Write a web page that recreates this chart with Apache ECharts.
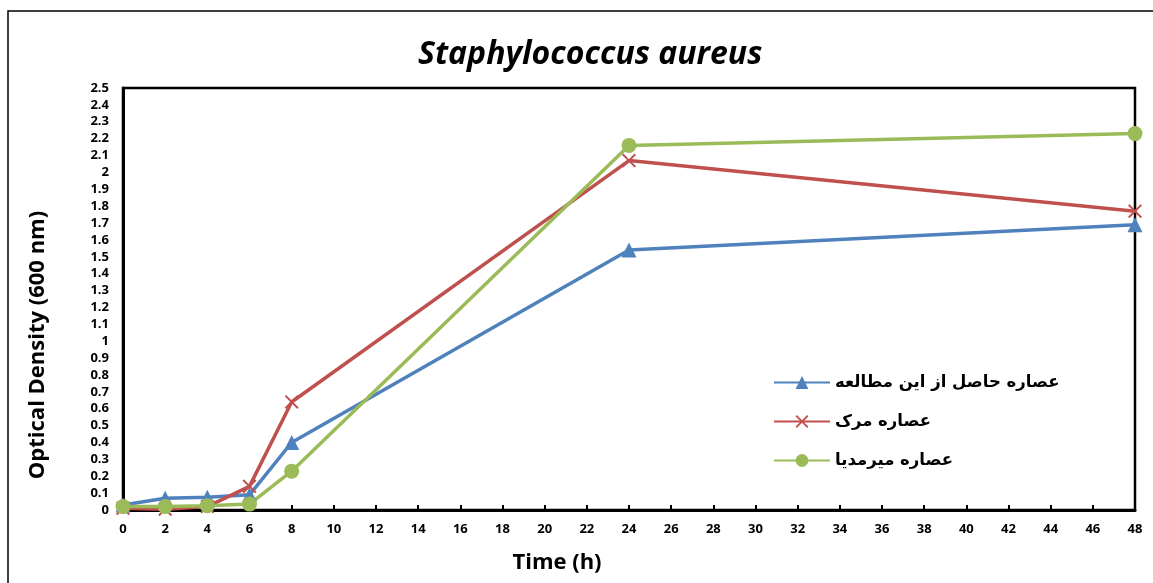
<!DOCTYPE html>
<html>
<head>
<meta charset="utf-8">
<script src="https://cdn.jsdelivr.net/npm/echarts@6/dist/echarts.min.js"></script>
<style>
  html, body { margin: 0; padding: 0; background: #fff; }
  #main { width: 1153px; height: 583px; }
</style>
</head>
<body>
<div id="main"></div>
<script>
// time points (h)
var hours = [0, 2, 4, 6, 8, 24, 48];
// optical density at 600 nm
var studyExtract = [0.03, 0.07, 0.075, 0.09, 0.40, 1.54, 1.69];
var merckExtract = [0.01, 0.005, 0.02, 0.14, 0.64, 2.07, 1.77];
var mirmediaExtract = [0.02, 0.02, 0.025, 0.035, 0.23, 2.16, 2.23];
var seriesNames = ['عصاره حاصل از این مطالعه', 'عصاره مرک', 'عصاره میرمدیا'];

function pairs(ys) {
  return hours.map(function (h, i) { return [h, ys[i]]; });
}

var crossPath = 'path://M0,1L1,0L5,4L9,0L10,1L6,5L10,9L9,10L5,6L1,10L0,9L4,5Z';
var boldFont = '"Open Sans", "Liberation Sans", sans-serif';

var chartDom = document.getElementById('main');
var myChart = echarts.init(chartDom);
myChart.setOption({
  animation: false,
  backgroundColor: '#fff',
  graphic: [{
    type: 'rect',
    shape: { x: 8, y: 11, width: 1200, height: 620 },
    style: { fill: 'none', stroke: '#000', lineWidth: 1.5 },
    z: 0
  }],
  title: {
    text: 'Staphylococcus aureus',
    left: 413,
    top: 34,
    textStyle: { fontFamily: boldFont, fontStyle: 'italic', fontWeight: 'bold', fontSize: 32, color: '#000' }
  },
  grid: {
    left: 123, top: 88, right: 18, bottom: 73,
    show: true, borderColor: '#000', borderWidth: 2.5
  },
  legend: {
    orient: 'vertical',
    left: 768,
    top: 369,
    itemGap: 22,
    itemWidth: 56,
    itemHeight: 16,
    data: seriesNames,
    textStyle: { fontFamily: '"DejaVu Sans", sans-serif', fontWeight: 'bold', fontSize: 16.5, color: '#000' }
  },
  xAxis: {
    type: 'value',
    min: 0, max: 48, interval: 2,
    name: 'Time (h)',
    nameLocation: 'middle',
    nameGap: 42,
    nameTextStyle: { fontFamily: boldFont, fontWeight: 'bold', fontSize: 22, color: '#000', padding: [0, 144, 0, 0] },
    axisLine: { lineStyle: { color: '#000', width: 3 } },
    axisTick: { inside: true, length: 5, lineStyle: { color: '#000', width: 2 } },
    axisLabel: { fontFamily: boldFont, fontWeight: 'bold', fontSize: 13, color: '#000', margin: 13 },
    splitLine: { show: false }
  },
  yAxis: {
    type: 'value',
    min: 0, max: 2.5, interval: 0.1,
    name: 'Optical Density (600 nm)',
    nameLocation: 'middle',
    nameGap: 74,
    nameTextStyle: { fontFamily: boldFont, fontWeight: 'bold', fontSize: 22, color: '#000', padding: [0, 92, 0, 0] },
    axisLine: { show: true, lineStyle: { color: '#000', width: 3 } },
    axisTick: { show: false },
    axisLabel: {
      fontFamily: boldFont, fontWeight: 'bold', fontSize: 13, color: '#000', margin: 14,
      formatter: function (v) { return String(parseFloat(v.toFixed(1))); }
    },
    splitLine: { show: false }
  },
  series: [{
    name: seriesNames[0],
    type: 'line',
    data: pairs(studyExtract),
    color: '#4F81BD',
    lineStyle: { width: 3.5 },
    symbol: 'triangle',
    symbolSize: 15,
    showAllSymbol: true
  }, {
    name: seriesNames[1],
    type: 'line',
    data: pairs(merckExtract),
    color: '#C0504D',
    lineStyle: { width: 3.5 },
    symbol: crossPath,
    symbolSize: 14,
    showAllSymbol: true
  }, {
    name: seriesNames[2],
    type: 'line',
    data: pairs(mirmediaExtract),
    color: '#9BBB59',
    lineStyle: { width: 3.5 },
    symbol: 'circle',
    symbolSize: 15,
    showAllSymbol: true
  }]
});
window.onresize = function () { myChart.resize(); };
</script>
</body>
</html>
